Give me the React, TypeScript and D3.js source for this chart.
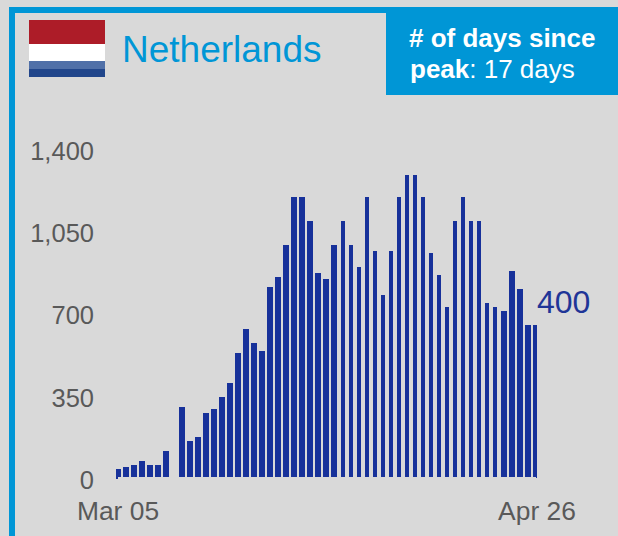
import React from "react";
import * as d3 from "d3";

const W = 618;
const H = 536;

// Daily new cases, Mar 05 to Apr 26 (Mar 12 has no report)
const dailyCases = [
  21, 26, 32, 42, 32, 32, 68, 0, 184, 95, 105, 168, 179, 211, 247, 326, 389, 353, 332, 500,
  526, 611, 737, 737, 674, 537, 521, 611, 674, 611, 553, 737, 595, 479, 595, 737, 795, 795,
  737, 589, 532, 447, 674, 737, 674, 674, 458, 447, 437, 542, 495, 400, 400,
];
const axisTicks = [0, 350, 700, 1050, 1400];
const axisTickLabels = ["0", "350", "700", "1,050", "1,400"];
const dateLabels = ["Mar 05", "Apr 26"];
const countryName = "Netherlands";
const latestLabel = "400";
const flagStripes = [
  { color: "#AD1C28", share: 24 },
  { color: "#FFFFFF", share: 17 },
  { color: "#5070A8", share: 8 },
  { color: "#21468B", share: 8 },
];

const FONT = "'Liberation Sans', Arial, sans-serif";
const BLUE = "#0096D6";
const BAR = "#17319A";
const GREY = "#595959";

// Bars land on every other device pixel, which gives the mix of thick and thin columns
const snap = (v: number) => 2 * Math.round((v - 1) / 2) + 1;

export default function App() {
  const x = d3
    .scaleBand<number>()
    .domain(d3.range(dailyCases.length))
    .range([114.89, 538.17])
    .paddingInner(0.3532);
  const barY = d3.scaleLinear().domain([0, 800]).range([477, 173]);
  const axisY = d3.scaleLinear().domain([0, 1400]).range([479.5, 151]);

  const stripeY = d3
    .scaleLinear()
    .domain([0, d3.sum(flagStripes, (s) => s.share)])
    .range([20, 77]);
  let acc = 0;

  return (
    <svg
      width={W}
      height={H}
      viewBox={`0 0 ${W} ${H}`}
      style={{ position: "absolute", left: 0, top: 0, fontFamily: FONT }}
    >
      <defs>
        <clipPath id="plot-clip">
          <rect x={116} y={0} width={421} height={H} />
        </clipPath>
      </defs>
      <rect width={W} height={H} fill="#D9D9D9" />

      {/* frame: top and left rules */}
      <rect x={9} y={7} width={W - 9} height={6} fill={BLUE} />
      <rect x={9} y={7} width={6} height={H - 7} fill={BLUE} />

      {/* flag */}
      {flagStripes.map((s) => {
        const y0 = stripeY(acc);
        acc += s.share;
        return <rect key={s.color} x={29} y={y0} width={76} height={stripeY(acc) - y0} fill={s.color} />;
      })}

      <text x={122} y={62} fontSize={37} fill={BLUE}>
        {countryName}
      </text>

      {/* days-since-peak callout */}
      <rect x={386} y={7} width={W - 386} height={88} fill={BLUE} />
      <text x={409} y={46.5} fontSize={26} fill="#FFFFFF" fontWeight="bold">
        # of days since
      </text>
      <text x={410} y={78} fontSize={26} fill="#FFFFFF">
        <tspan fontWeight="bold">peak</tspan>: 17 days
      </text>

      {/* value axis labels */}
      {axisTicks.map((t, i) => (
        <text key={t} x={94} y={axisY(t)} dy="0.36em" textAnchor="end" fontSize={25.5} fill={GREY}>
          {axisTickLabels[i]}
        </text>
      ))}

      {/* daily bars */}
      <g clipPath="url(#plot-clip)" fill={BAR}>
        {dailyCases.map((v, i) => {
          const left = snap(x(i)!);
          const right = snap(x(i)! + x.bandwidth());
          const top = snap(barY(v));
          return v > 0 ? (
            <rect key={i} x={left} y={top} width={right - left} height={barY(0) - top} />
          ) : null;
        })}
        {/* end ticks under the first and last columns */}
        <rect x={116} y={barY(0)} width={2} height={2} />
        <rect x={536} y={barY(0)} width={1} height={1} />
      </g>

      <text x={537} y={313} fontSize={32} fill="#1F3597">
        {latestLabel}
      </text>

      {/* date range */}
      <text x={118} y={520} textAnchor="middle" fontSize={26.4} fill={GREY}>
        {dateLabels[0]}
      </text>
      <text x={537} y={520} textAnchor="middle" fontSize={26.4} fill={GREY}>
        {dateLabels[1]}
      </text>
    </svg>
  );
}
